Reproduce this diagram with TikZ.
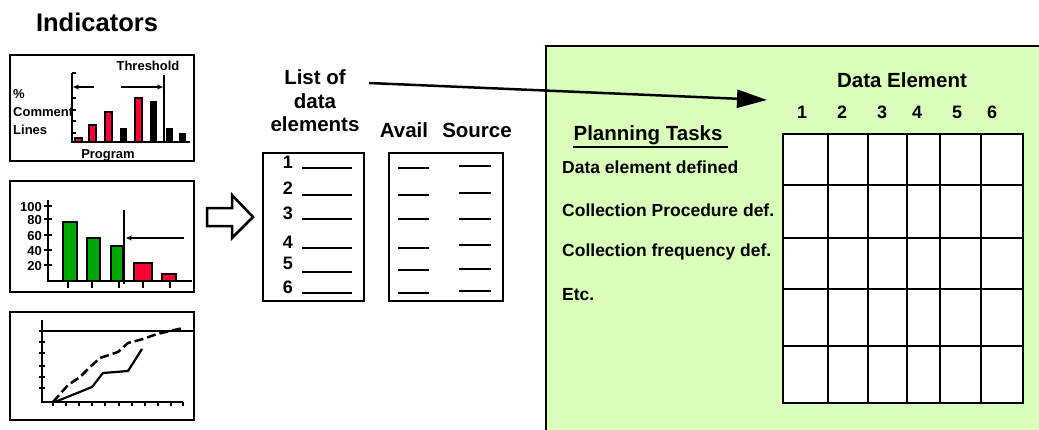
\documentclass[tikz,border=0pt]{standalone}
\usepackage{fontspec}
\setmainfont{Liberation Sans}
\usetikzlibrary{arrows.meta}
\definecolor{panelgreen}{RGB}{217,255,187}
\definecolor{bargreen}{RGB}{0,168,0}
\definecolor{barred}{RGB}{255,0,51}
\tikzset{
  lbl/.style={font=\bfseries\fontsize{#1}{#1}\selectfont, inner sep=0pt, text=black},
  boxline/.style={draw=black, line width=2.5pt},
  axisline/.style={draw=black, line width=2.2pt},
  thinline/.style={draw=black, line width=1.5pt},
  redbar/.style={fill=barred, draw=black, line width=1.5pt},
  blackbar/.style={fill=black, draw=black, line width=1pt},
  greenbar/.style={fill=bargreen, draw=black, line width=2pt},
  smallarrow/.style={draw=black, line width=1.5pt, -{Stealth[length=6pt,width=5pt]}},
  listrule/.style={draw=black, line width=2pt},
  gridline/.style={draw=black, line width=2.2pt},
}
\begin{document}
\begin{tikzpicture}[x=1pt,y=-1pt]
\useasboundingbox (0,0) rectangle (1039,429);
\fill[white] (0,0) rectangle (1039,429);

% title
\node[lbl=25.5] (title) at (97,22) {Indicators};

% ---------- chart 1 ----------
\draw[boxline] (10,55) rectangle (194,161);
\foreach \x/\t in {75/138, 89/125, 105/112, 135/98}
  \draw[redbar] (\x,142) rectangle ++(7,\t-142);
\foreach \x/\t in {120/128, 150/101, 166/128, 179/133}
  \draw[blackbar] (\x,142) rectangle ++(6,\t-142);
\draw[axisline] (72,73) -- (72,142) -- (190,142);
\foreach \y in {73,98,110,121,133}
  \draw[thinline] (72,\y) -- (76,\y);
\draw[axisline] (164,75) -- (164,142);
\draw[smallarrow] (94,87) -- (73,87);
\draw[smallarrow] (121,87) -- (163,87);
\node[lbl=13] (thr) at (148,66) {Threshold};
\node[lbl=13, anchor=west] (pct) at (13,94) {\%};
\node[lbl=13, anchor=west] (comm) at (13,112) {Comment};
\node[lbl=13, anchor=west] (lines) at (13,130) {Lines};
\node[lbl=13] (prog) at (108,155) {Program};

% ---------- chart 2 ----------
\draw[boxline] (10,181) rectangle (194,292);
\draw[greenbar] (63,281) rectangle (77,222);
\draw[greenbar] (87,281) rectangle (100,238);
\draw[greenbar] (111,281) rectangle (123,246);
\draw[redbar, line width=2pt] (134,281) rectangle (152,263);
\draw[redbar, line width=2pt] (162,281) rectangle (176,274);
\draw[axisline] (48,200) -- (48,281) -- (192,281);
\foreach \y/\v in {206/100,219/80,235/60,250/40,265/20}{
  \draw[thinline] (44,\y) -- (52,\y);
  \node[lbl=13, anchor=east] at (42,\y+1) {\v};
}
\foreach \x in {68,92,119,143,170}
  \draw[thinline] (\x,281) -- (\x,288);
\draw[axisline] (124,210) -- (124,284);
\draw[smallarrow] (184,238) -- (126,238);

% ---------- chart 3 ----------
\draw[boxline] (10,312) rectangle (194,420);
\draw[axisline] (42,320) -- (42,402) -- (183,402);
\draw[thinline] (42,331) -- (193,331);
\foreach \y in {331,342,353,366,377,388}
  \draw[thinline] (39,\y) -- (45,\y);
\foreach \x in {53,66,79,92,105,119,132,145,158,171,183}
  \draw[thinline] (\x,402) -- (\x,406);
\draw[draw=black, line width=2.5pt, dash pattern=on 9pt off 4pt]
  (53,402) -- (68,385) -- (80,377) -- (90,367) -- (100,358) -- (118,352)
  -- (128,343) -- (143,339) -- (157,334) -- (183,328);
\draw[draw=black, line width=2.2pt]
  (55,402) -- (92,387) -- (103,373) -- (128,371) -- (142,349);

% ---------- block arrow ----------
\draw[black, line width=2.5pt, fill=white, line join=miter]
  (207,208) -- (232,208) -- (232,195) -- (253,217) -- (232,238) -- (232,226) -- (207,226) -- cycle;

% ---------- list of data elements ----------
\node[lbl=20.5, align=center] (listof) at (315,101) {List of\\[3pt]data\\[3pt]elements};
\node[lbl=20.5] (avail) at (404,130) {Avail};
\node[lbl=20.5] (source) at (477,130) {Source};
\draw[boxline, line width=2.2pt] (263,153) rectangle (364,301);
\draw[boxline, line width=2.2pt] (389,153) rectangle (503,301);
\foreach \n/\ny/\ly/\ay/\sy in {1/162/168/168/166, 2/188/195/195/193, 3/213/219/219/219,
                               4/242/248/248/245, 5/263/272/270/269, 6/287/293/293/291}{
  \node[lbl=18] (num\n) at (288,\ny) {\n};
  \draw[listrule] (302,\ly) -- (352,\ly);
  \draw[listrule] (398,\ay) -- (429,\ay);
  \draw[listrule] (459,\sy) -- (491,\sy);
}

% ---------- planning panel ----------
\draw[fill=panelgreen, draw=black, line width=2.5pt] (546,46) rectangle (1050,440);
\node[lbl=20.5] (de) at (902,80) {Data Element};
\foreach \i/\x in {1/802,2/842,3/882,4/917,5/957,6/992}
  \node[lbl=18] (col\i) at (\x,112) {\i};
\node[lbl=20.5] (pt) at (648,135) {Planning Tasks};
\draw[black, line width=2pt] (573,147) -- (728,147);
\node[lbl=17.5, anchor=west] (t1) at (562,167) {Data element defined};
\node[lbl=17.5, anchor=west] (t2) at (562,210) {Collection Procedure def.};
\node[lbl=17.5, anchor=west] (t3) at (562,252) {Collection frequency def.};
\node[lbl=17.5, anchor=west] (t4) at (562,295) {Etc.};
\draw[gridline, fill=white] (783,134) rectangle (1023,403);
\foreach \x in {828,868,907,940,981}
  \draw[gridline] (\x,134) -- (\x,403);
\foreach \y in {185,238,289,346}
  \draw[gridline] (783,\y) -- (1023,\y);

% ---------- long arrow ----------
\coordinate (arrS) at (369,83);
\coordinate (arrE) at (767,100);
\draw[black, line width=2.5pt, -{Triangle[length=30pt,width=18pt]}] (arrS) -- (arrE);
\end{tikzpicture}
\end{document}
